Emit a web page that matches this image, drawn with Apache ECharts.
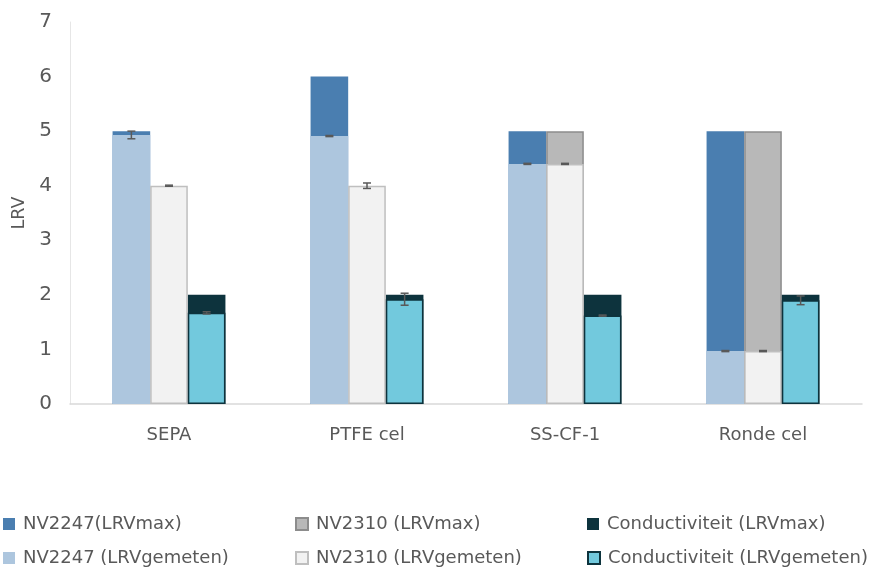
<!DOCTYPE html>
<html><head><meta charset="utf-8">
<script src="https://cdn.jsdelivr.net/npm/echarts@6/dist/echarts.min.js"></script>
<style>html,body{margin:0;padding:0;background:#fff}#c{width:869px;height:569px}</style>
</head><body><div id="c"></div>
<script>
const categories = ['SEPA', 'PTFE cel', 'SS-CF-1', 'Ronde cel'];
const nv2247Max = [5.0, 6.0, 5.0, 5.0];
const nv2310Max = [null, null, 5.0, 5.0];
const condMax = [2.0, 2.0, 2.0, 2.0];
const nv2247Meas = [4.93, 4.91, 4.40, 0.97];
const nv2310Meas = [4.00, 4.00, 4.40, 0.97];
const condMeas = [1.67, 1.92, 1.62, 1.90];
const nv2247Err = [0.07, 0.01, 0.01, 0.01];
const nv2310Err = [0.01, 0.05, 0.01, 0.01];
const condErr = [0.02, 0.11, 0.01, 0.08];
const yTicks = [0, 1, 2, 3, 4, 5, 6, 7];

const FONT = '"DejaVu Sans", sans-serif';
const chart = echarts.init(document.getElementById('c'));

function errSeries(vals, errs, slot) {
  return {
    type: 'custom', xAxisIndex: 1, z: 10, silent: true,
    data: vals.map((v, i) => [i, v, errs[i]]),
    renderItem: function (params, api) {
      const i = api.value(0), v = api.value(1), e = api.value(2);
      const band = api.size([1, 0])[0];
      const off = slot * band * 0.19;
      const top = api.coord([i, v + e]);
      const bot = api.coord([i, v - e]);
      const x = top[0] + off;
      const cw = 4;
      const st = { stroke: '#595959', lineWidth: 1.5 };
      return { type: 'group', children: [
        { type: 'line', shape: { x1: x, y1: top[1], x2: x, y2: bot[1] }, style: st },
        { type: 'line', shape: { x1: x - cw, y1: top[1], x2: x + cw, y2: top[1] }, style: st },
        { type: 'line', shape: { x1: x - cw, y1: bot[1], x2: x + cw, y2: bot[1] }, style: st }
      ]};
    }
  };
}

const barCommon = { type: 'bar', barWidth: '19%', barGap: '0%' };
const names = ['NV2247(LRVmax)', 'NV2310 (LRVmax)', 'Conductiviteit (LRVmax)',
  'NV2247 (LRVgemeten)', 'NV2310 (LRVgemeten)', 'Conductiviteit (LRVgemeten)'];
const legPos = [[3, 515], [295, 515], [587, 515], [3, 549], [295, 549], [587, 549]];

chart.setOption({
  animation: false,
  backgroundColor: '#fff',
  grid: { left: 70, right: 7, top: 22, bottom: 165, containLabel: false, outerBoundsMode: 'none' },
  legend: names.map((n, k) => ({
    data: [n], left: legPos[k][0], top: legPos[k][1], icon: 'rect',
    itemWidth: 12, itemHeight: 12, itemGap: 4, padding: 0,
    textStyle: { fontFamily: FONT, fontSize: 18, lineHeight: 18, color: '#595959', padding: [0, 0, 0, 3] }
  })),
  xAxis: [
    { type: 'category', data: categories,
      axisLine: { lineStyle: { color: '#d9d9d9', width: 1.5 } }, axisTick: { show: false },
      axisLabel: { fontFamily: FONT, fontSize: 18, color: '#595959', margin: 22 } },
    { type: 'category', data: categories, show: false }
  ],
  yAxis: { type: 'value', min: 0, max: 7, interval: 1,
    name: 'LRV', nameLocation: 'middle', nameGap: 40,
    nameTextStyle: { fontFamily: FONT, fontSize: 17.5, color: '#595959' },
    axisLine: { show: true, lineStyle: { color: '#e6e6e6' } }, axisTick: { show: false },
    splitLine: { show: false },
    axisLabel: { fontFamily: FONT, fontSize: 20, color: '#595959', margin: 18,
      formatter: v => yTicks.includes(v) ? String(v) : '' } },
  series: [
    Object.assign({ name: names[0], xAxisIndex: 0, data: nv2247Max,
      itemStyle: { color: '#4a7eb0' } }, barCommon),
    Object.assign({ name: names[1], xAxisIndex: 0, data: nv2310Max,
      itemStyle: { color: '#b8b8b8', borderColor: '#8c8c8c', borderWidth: 1.5 } }, barCommon),
    Object.assign({ name: names[2], xAxisIndex: 0, data: condMax,
      itemStyle: { color: '#0d333d' } }, barCommon),
    Object.assign({ name: names[3], xAxisIndex: 1, data: nv2247Meas,
      itemStyle: { color: '#adc6de' } }, barCommon),
    Object.assign({ name: names[4], xAxisIndex: 1, data: nv2310Meas,
      itemStyle: { color: '#f2f2f2', borderColor: '#bfbfbf', borderWidth: 1.5 } }, barCommon),
    Object.assign({ name: names[5], xAxisIndex: 1, data: condMeas,
      itemStyle: { color: '#72c9dd', borderColor: '#0d333d', borderWidth: 1.5 } }, barCommon),
    errSeries(nv2247Meas, nv2247Err, -1),
    errSeries(nv2310Meas, nv2310Err, 0),
    errSeries(condMeas, condErr, 1)
  ]
});
</script></body></html>
